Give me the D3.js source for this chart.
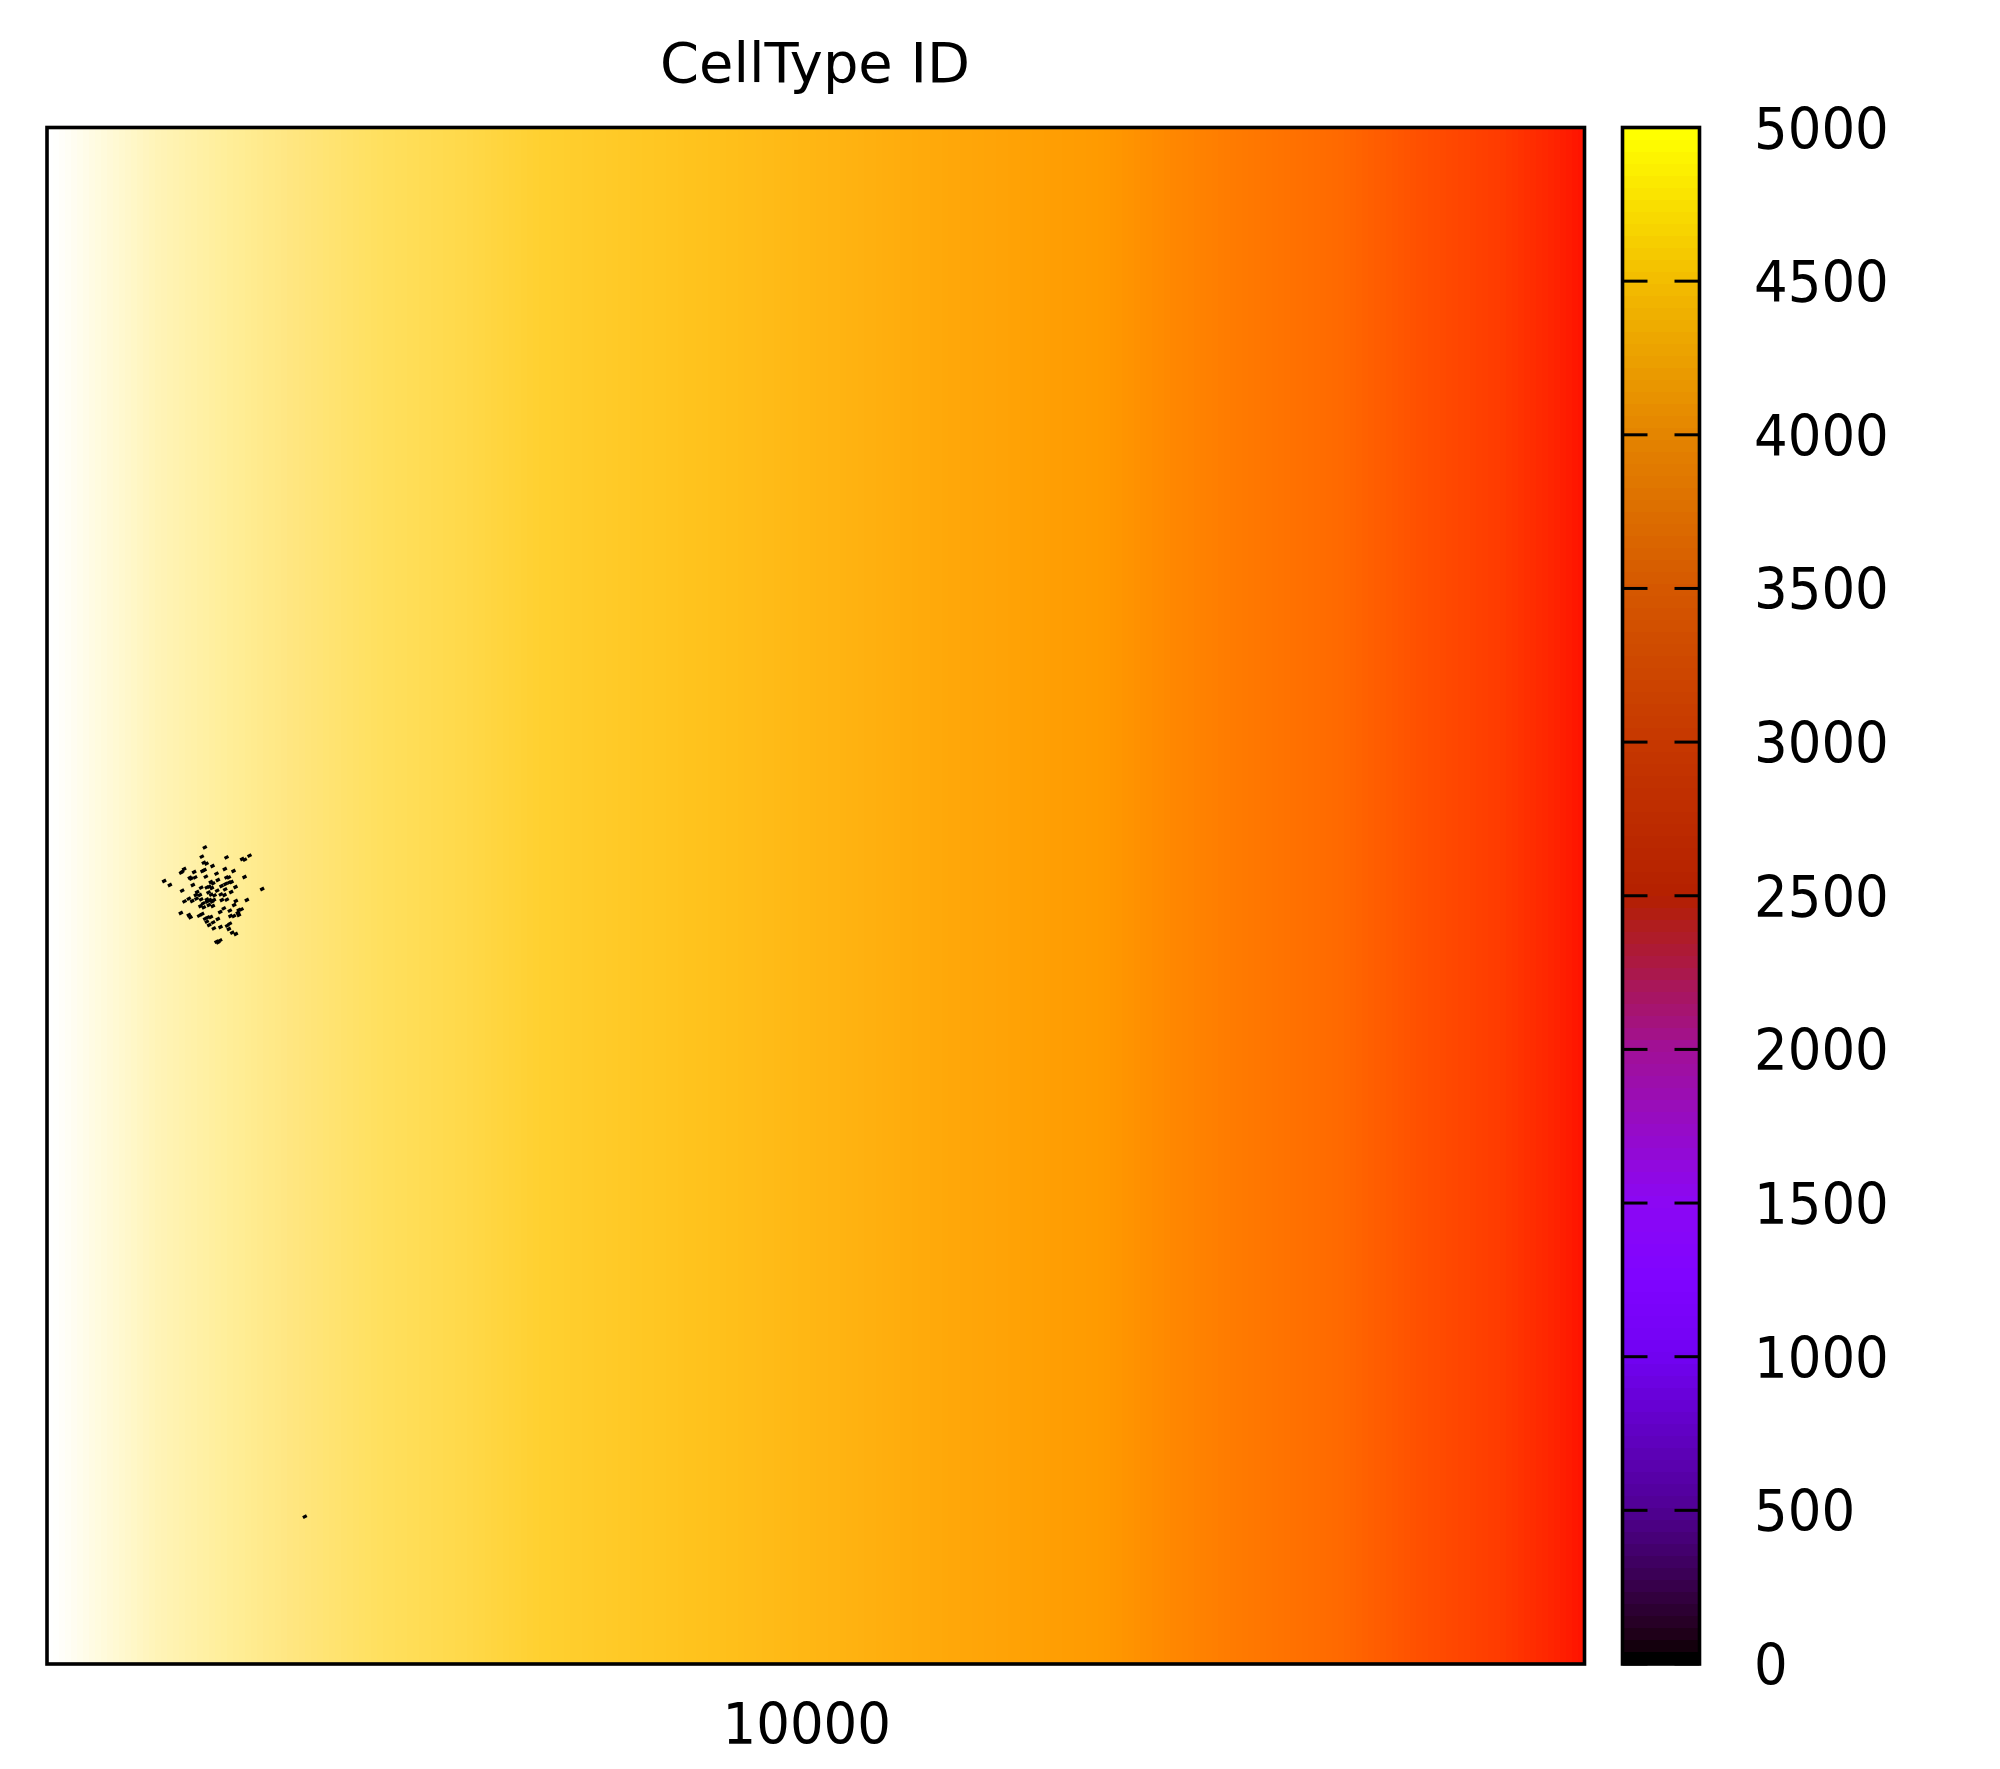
<!DOCTYPE html>
<html lang="en">
<head>
    <meta charset="UTF-8">
    <title>CellType ID</title>
    <script src="https://d3js.org/d3.v7.min.js" charset="utf-8"></script>
    <style>
        body, html { margin: 0; padding: 0; background: #fff; }
        svg { display: block; }
        text { font-family: "DejaVu Sans", sans-serif; fill: #000; }
    </style>
</head>
<body>
    <svg id="chart"></svg>
    <script>
        const width = 2000;
        const height = 1769;

        const titleText = 'CellType ID';
        const xTicks = [10000];
        const cbTicks = [0, 500, 1000, 1500, 2000, 2500, 3000, 3500, 4000, 4500, 5000];

        // colour box palette
        const cbStops = [0, 50, 125, 250, 500, 1000, 1250, 1500, 2000, 2500, 3000, 3500, 4000, 4500, 5000];
        const cbColors = ['#000000', '#1a0010', '#280028', '#39004f', '#510096', '#7202f3', '#8004ff', '#8c07f3',
            '#a11096', '#b42000', '#c63700', '#d55700', '#e48300', '#f2ba00', '#ffff00'];
        const cbLevels = 128;

        // background field across x
        const bgStops = [874, 916, 1432, 2152, 3040, 3796, 4792, 5920, 6796, 8716, 11476, 13516, 14320, 15112,
            16312, 17320, 18316, 18916, 19324];
        const bgColors = ['#ffffff', '#ffffff', '#fffbe0', '#fff4b8', '#ffee98', '#ffe680', '#ffe060', '#ffd848',
            '#ffd030', '#ffc21c', '#ffa90a', '#ff9a00', '#ff8800', '#ff7a00', '#ff6a00', '#ff5000', '#ff3a00',
            '#ff2400', '#ff1000'];

        // cell positions
        const cellX = [2768, 2732, 3028, 3304, 3216, 3248, 2756, 2788, 2860, 2764, 2740, 2520, 2496, 2484, 2640, 3008,
            3112, 2908, 3244, 2588, 2652, 2780, 2924, 3056, 3028, 2840, 2868, 2280, 2348, 2624, 3016, 3060,
            3088, 3136, 3456, 2496, 2724, 2792, 2820, 2852, 2968, 3012, 2916, 2676, 2812, 3084, 2660, 2708,
            2960, 3004, 2844, 2884, 2524, 2576, 2616, 2668, 2724, 2792, 2828, 2876, 2972, 3032, 3140, 3272,
            3120, 2748, 2796, 2856, 2716, 2756, 2816, 2864, 2996, 3068, 2952, 3208, 3176, 3164, 2480, 2576,
            2596, 2700, 2736, 2772, 2804, 2840, 2924, 3076, 3116, 3176, 2792, 2820, 2868, 2876, 2956, 3036,
            3068, 3056, 3096, 3140, 2908, 2952, 2928, 2604, 3968];
        const cellY = [9800, 9688, 9680, 9700, 9660, 9652, 9616, 9604, 9576, 9528, 9516, 9540, 9508, 9496, 9504, 9540,
            9516, 9484, 9444, 9436, 9440, 9448, 9408, 9440, 9440, 9384, 9368, 9396, 9348, 9348, 9360, 9380,
            9384, 9324, 9300, 9280, 9316, 9320, 9328, 9312, 9336, 9296, 9280, 9264, 9260, 9264, 9228, 9228,
            9236, 9228, 9232, 9224, 9152, 9184, 9156, 9184, 9176, 9176, 9168, 9168, 9168, 9172, 9156, 9168,
            9108, 9128, 9148, 9148, 9096, 9080, 9108, 9096, 9068, 9040, 9024, 9056, 9048, 9016, 9012, 8988,
            8960, 8980, 9000, 8944, 8960, 8964, 8940, 8976, 8976, 8988, 8908, 8868, 8900, 8828, 8844, 8860,
            8884, 8820, 8776, 8760, 8668, 8684, 8660, 9424, 1768];

        const plotLeft = 47, plotRight = 1584.5, plotTop = 127.5, plotBottom = 1664;
        const cbLeft = 1622.5, cbRight = 1699.5;
        const tickLen = 25;
        const digitWidth = 33.7; // labels in the picture are a bit narrower than plain DejaVu

        const svg = d3.select('#chart').attr('width', width).attr('height', height);

        const xScale = d3.scaleLinear().domain([874, 19324]).range([plotLeft, plotRight]);
        const yScale = d3.scaleLinear().domain([0, 18438]).range([plotBottom, plotTop]);
        const cbScale = d3.scaleLinear().domain([0, 5000]).range([plotBottom, plotTop]);

        const bgColor = d3.scaleLinear().domain(bgStops).range(bgColors).interpolate(d3.interpolateRgb);
        const cbColor = d3.scaleLinear().domain(cbStops).range(cbColors).interpolate(d3.interpolateRgb);

        // background strips
        const bgStrips = d3.range(256).map(i => xScale.domain()[0] + i * (xScale.domain()[1] - xScale.domain()[0]) / 256);
        const stripWidth = (plotRight - plotLeft) / 256;
        svg.append('g')
            .selectAll('rect')
            .data(bgStrips)
            .join('rect')
            .attr('x', d => xScale(d))
            .attr('y', plotTop)
            .attr('width', stripWidth + 0.5)
            .attr('height', plotBottom - plotTop)
            .attr('shape-rendering', 'crispEdges')
            .style('fill', d => bgColor(d));

        // cells
        svg.append('g')
            .selectAll('line')
            .data(cellX.map((x, i) => ({ x: x, y: cellY[i] })))
            .join('line')
            .attr('x1', d => xScale(d.x) - 1.9)
            .attr('y1', d => yScale(d.y) + 1)
            .attr('x2', d => xScale(d.x) + 1.9)
            .attr('y2', d => yScale(d.y) - 1)
            .style('stroke', '#000')
            .style('stroke-width', 3.2);

        svg.append('rect')
            .attr('x', plotLeft)
            .attr('y', plotTop)
            .attr('width', plotRight - plotLeft)
            .attr('height', plotBottom - plotTop)
            .style('fill', 'none')
            .style('stroke', '#000')
            .style('stroke-width', 3.6);

        // colour box
        const levelHeight = (plotBottom - plotTop) / cbLevels;
        svg.append('g')
            .selectAll('rect')
            .data(d3.range(cbLevels))
            .join('rect')
            .attr('x', cbLeft)
            .attr('y', i => plotBottom - (i + 1) * levelHeight)
            .attr('width', cbRight - cbLeft)
            .attr('height', levelHeight + 0.5)
            .attr('shape-rendering', 'crispEdges')
            .style('fill', i => cbColor(i / (cbLevels - 1) * 5000));

        const cbTickGroup = svg.append('g');
        cbTickGroup.selectAll('line.left')
            .data(cbTicks)
            .join('line')
            .attr('class', 'left')
            .attr('x1', cbLeft)
            .attr('x2', cbLeft + tickLen)
            .attr('y1', d => cbScale(d))
            .attr('y2', d => cbScale(d));
        cbTickGroup.selectAll('line.right')
            .data(cbTicks)
            .join('line')
            .attr('class', 'right')
            .attr('x1', cbRight - tickLen)
            .attr('x2', cbRight)
            .attr('y1', d => cbScale(d))
            .attr('y2', d => cbScale(d));
        cbTickGroup.selectAll('line').style('stroke', '#000').style('stroke-width', 3);

        svg.append('rect')
            .attr('x', cbLeft)
            .attr('y', plotTop)
            .attr('width', cbRight - cbLeft)
            .attr('height', plotBottom - plotTop)
            .style('fill', 'none')
            .style('stroke', '#000')
            .style('stroke-width', 3.6);

        // labels
        svg.append('g')
            .selectAll('text')
            .data(cbTicks)
            .join('text')
            .attr('x', 1754)
            .attr('y', d => cbScale(d) + 21)
            .attr('textLength', d => String(d).length * digitWidth)
            .attr('lengthAdjust', 'spacingAndGlyphs')
            .style('font-size', '57px')
            .text(d => d);

        svg.append('g')
            .selectAll('text')
            .data(xTicks)
            .join('text')
            .attr('x', d => xScale(d) - 85)
            .attr('y', 1744)
            .attr('textLength', d => String(d).length * digitWidth)
            .attr('lengthAdjust', 'spacingAndGlyphs')
            .style('font-size', '57px')
            .text(d => d);

        svg.append('text')
            .attr('x', 660)
            .attr('y', 82)
            .style('font-size', '56px')
            .attr('textLength', 310)
            .attr('lengthAdjust', 'spacingAndGlyphs')
            .text(titleText);
    </script>
</body>
</html>
